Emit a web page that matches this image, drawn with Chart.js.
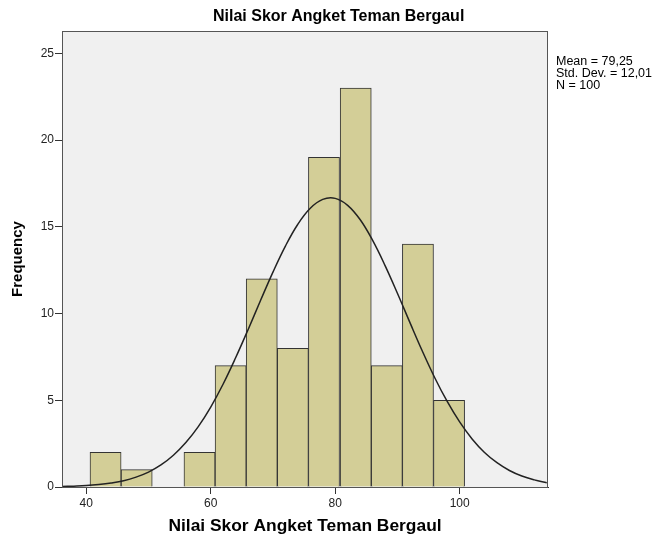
<!DOCTYPE html>
<html><head><meta charset="utf-8">
<script src="https://cdn.jsdelivr.net/npm/chart.js@4.4.1/dist/chart.umd.min.js"></script>
<style>html,body{margin:0;padding:0;background:#fff;}#wrap{width:654px;height:542px;position:relative;}</style>
</head><body><div id="wrap"><canvas id="c" width="654" height="542"></canvas></div>
<script>
const chartTitle = 'Nilai Skor Angket Teman Bergaul';
const xTitle = 'Nilai Skor Angket Teman Bergaul';
const yTitle = 'Frequency';
const statsLines = ['Mean = 79,25', 'Std. Dev. = 12,01', 'N = 100'];
const binCenters = [43.1, 48.1, 53.1, 58.2, 63.2, 68.2, 73.2, 78.2, 83.3, 88.3, 93.3, 98.3];
const frequencies = [2, 1, 0, 2, 7, 12, 8, 19, 23, 7, 14, 5];
const xTicks = [40, 60, 80, 100];
const yTicks = [0, 5, 10, 15, 20, 25];
const curveX = [36,38,40,42,44,46,48,50,52,54,56,58,60,62,64,66,68,70,72,74,76,78,80,82,84,86,88,90,92,94,96,98,100,102,104,106,108,110,112,114];
const curveY = [0.03,0.05,0.08,0.14,0.23,0.36,0.57,0.86,1.27,1.83,2.56,3.48,4.61,5.94,7.45,9.07,10.75,12.39,13.89,15.15,16.07,16.58,16.64,16.24,15.42,14.23,12.78,11.17,9.49,7.84,6.30,4.93,3.75,2.77,1.99,1.40,0.95,0.63,0.41,0.25];

const FONT = "'Liberation Sans', Arial, sans-serif";

const framePlugin = {
  id: 'frame',
  beforeDatasetsDraw(chart) {
    const {ctx, chartArea: a} = chart;
    ctx.save();
    ctx.fillStyle = '#f0f0f0';
    ctx.fillRect(a.left, a.top, a.right - a.left, a.bottom - a.top);
    ctx.restore();
  },
  afterDraw(chart) {
    const {ctx, chartArea: a} = chart;
    ctx.save();
    ctx.strokeStyle = '#555';
    ctx.lineWidth = 1;
    ctx.strokeRect(Math.round(a.left) + 0.5, Math.round(a.top) + 0.5, Math.round(a.right - a.left) - 1, Math.round(a.bottom - a.top));
    ctx.fillStyle = '#000';
    ctx.font = "bold 16px " + FONT;
    ctx.textAlign = 'left';
    ctx.textBaseline = 'middle';
    ctx.fillText(chartTitle, 213, 17);
    ctx.font = "12.5px " + FONT;
    statsLines.forEach((t, i) => ctx.fillText(t, 556, 62 + i * 12));
    ctx.restore();
  }
};

new Chart(document.getElementById('c'), {
  data: {
    datasets: [
      {
        type: 'line',
        data: curveX.map((x, i) => ({x: x, y: curveY[i]})),
        borderColor: '#222',
        borderWidth: 1.5,
        pointRadius: 0,
        tension: 0.4,
        fill: false,
        order: 0
      },
      {
        type: 'bar',
        data: binCenters.map((x, i) => ({x: x, y: frequencies[i]})),
        backgroundColor: '#d3ce97',
        borderColor: '#333',
        borderWidth: 1,
        barPercentage: 1,
        categoryPercentage: 1,
        order: 1
      }
    ]
  },
  options: {
    responsive: false,
    animation: false,
    devicePixelRatio: 1,
    layout: {padding: {top: 31, right: 106, left: 0, bottom: 0}},
    plugins: {legend: {display: false}, tooltip: {enabled: false}, title: {display: false}},
    scales: {
      x: {
        type: 'linear',
        offset: false,
        min: 36.1,
        max: 114.2,
        afterBuildTicks(s) { s.ticks = xTicks.map(v => ({value: v})); },
        afterFit(s) { s.height = 55; },
        grid: {display: true, offset: false, drawOnChartArea: false, drawTicks: true, tickLength: 7, color: '#333'},
        border: {display: true, color: '#333'},
        ticks: {color: '#222', font: {family: FONT, size: 12}, padding: 2, maxRotation: 0},
        title: {display: true, text: xTitle, color: '#000', font: {family: FONT, size: 17.4, weight: 'bold'}, padding: {top: 0, bottom: 5}}
      },
      y: {
        min: 0,
        max: 26.29,
        afterBuildTicks(s) { s.ticks = yTicks.map(v => ({value: v})); },
        afterFit(s) { s.width = 62; },
        grid: {display: true, drawOnChartArea: false, drawTicks: true, tickLength: 7, color: '#333'},
        border: {display: true, color: '#333'},
        ticks: {color: '#222', font: {family: FONT, size: 12}, padding: 1},
        title: {display: true, text: yTitle, color: '#000', font: {family: FONT, size: 15, weight: 'bold'}, padding: {top: 9, bottom: 0}}
      }
    }
  },
  plugins: [framePlugin]
});
</script></body></html>
